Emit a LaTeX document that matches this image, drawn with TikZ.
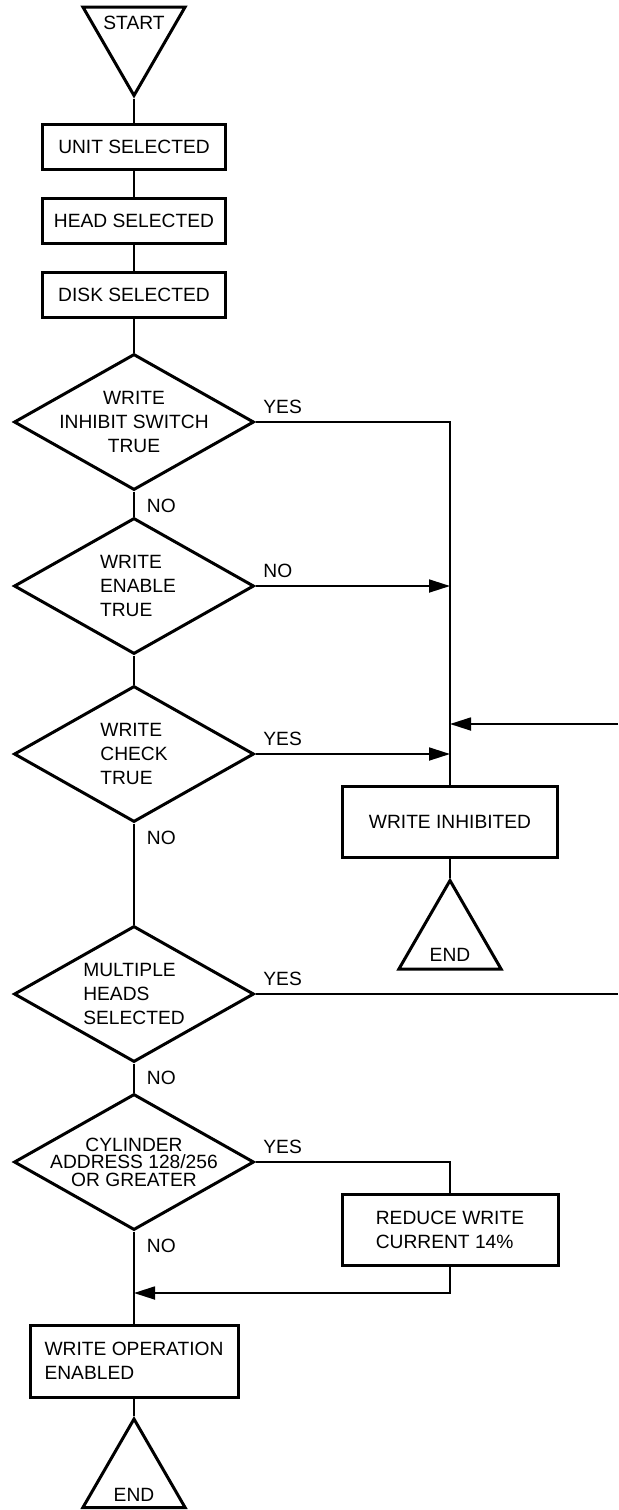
\documentclass[tikz,border=0pt]{standalone}
\usepackage{fontspec}
\setmainfont{Liberation Sans}
\usetikzlibrary{shapes.geometric,arrows.meta}

\begin{document}
\begin{tikzpicture}[x=0.5pt,y=-0.5pt,
  every node/.style={font=\fontsize{9.6pt}{12pt}\selectfont},
  stepbox/.style={draw,line width=1.5pt,align=left},
  decision/.style={diamond,draw,line width=1.5pt,inner sep=0pt,
    minimum width=120pt,minimum height=68pt},
  terminal/.style={regular polygon,regular polygon sides=3,draw,
    line width=1.5pt,inner sep=0pt,minimum size=59pt},
  link/.style={line width=0.9pt},
  arr/.style={line width=0.9pt,-{Triangle[length=10.5pt,width=6.5pt]}},
  yeslbl/.style={anchor=south west,xshift=3.5pt,yshift=3.5pt,inner sep=0pt},
  nolbl/.style={anchor=north west,xshift=6pt,yshift=-3.5pt,inner sep=0pt}]
  \useasboundingbox (0,0) rectangle (618,1510);

  % main column
  \node[terminal,shape border rotate=180,label={[yshift=6.75pt]center:START}] (start) at (134,36.5) {};
  \node[stepbox,minimum width=91.5pt,minimum height=22.5pt] (unit) at (134,147) {UNIT SELECTED};
  \node[stepbox,minimum width=91.5pt,minimum height=22.5pt] (head) at (134,221) {HEAD SELECTED};
  \node[stepbox,minimum width=91.5pt,minimum height=22.5pt] (disk) at (134,295) {DISK SELECTED};
  \node[decision,label={[align=center]center:WRITE\\INHIBIT SWITCH\\TRUE}] (inhsw) at (134,422) {};
  \node[decision,label={[align=left,xshift=2pt]center:WRITE\\ENABLE\\TRUE}] (enable) at (134,586) {};
  \node[decision,label={[align=left]center:WRITE\\CHECK\\TRUE}] (check) at (134,754) {};
  \node[decision,label={[align=left]center:MULTIPLE\\HEADS\\SELECTED}] (heads) at (134,994) {};
  \node[decision,label={[align=center,font=\fontsize{9.6pt}{8.8pt}\selectfont]center:CYLINDER\\ADDRESS 128/256\\OR GREATER}] (cyl) at (134,1162) {};
  \node[stepbox,minimum width=104pt,minimum height=36pt] (enabled) at (134,1361) {WRITE OPERATION\\ENABLED};
  \node[terminal,label={[yshift=-8.5pt]center:END}] (end2) at (134,1478) {};

  % right column
  \node[stepbox,minimum width=107.5pt,minimum height=35.5pt] (inhibit) at (450,822) {WRITE INHIBITED};
  \node[terminal,label={[yshift=-7.75pt]center:END}] (end1) at (450,939.5) {};
  \node[stepbox,minimum width=108pt,minimum height=35.5pt] (reduce) at (450,1229.5) {REDUCE WRITE\\CURRENT 14\%};

  \coordinate (inj1) at (inhibit.north |- enable.east);
  \coordinate (inj2) at (inhibit.north |- check.east);
  \coordinate (inj3) at (450,724);
  \coordinate (edge1) at (618,724);
  \coordinate (edge2) at (618,994);
  \coordinate (merge) at (134,1293);

  \draw[link] (start.corner 1) -- (unit.north);
  \draw[link] (unit.south) -- (head.north);
  \draw[link] (head.south) -- (disk.north);
  \draw[link] (disk.south) -- (inhsw.north);
  \draw[link] (inhsw.east) node[yeslbl]{YES} -| (inhibit.north);
  \draw[link] (inhsw.south) node[nolbl]{NO} -- (enable.north);
  \draw[arr] (enable.east) node[yeslbl]{NO} -- (inj1);
  \draw[link] (enable.south) -- (check.north);
  \draw[arr] (check.east) node[yeslbl]{YES} -- (inj2);
  \draw[link] (check.south) node[nolbl]{NO} -- (heads.north);
  \draw[arr] (edge1) -- (inj3);
  \draw[link] (heads.east) node[yeslbl]{YES} -- (edge2);
  \draw[link] (heads.south) node[nolbl]{NO} -- (cyl.north);
  \draw[link] (cyl.east) node[yeslbl]{YES} -| (reduce.north);
  \draw[link] (cyl.south) node[nolbl]{NO} -- (enabled.north);
  \draw[arr] (reduce.south) |- (merge);
  \draw[link] (inhibit.south) -- (end1.corner 1);
  \draw[link] (enabled.south) -- (end2.corner 1);
\end{tikzpicture}
\end{document}
